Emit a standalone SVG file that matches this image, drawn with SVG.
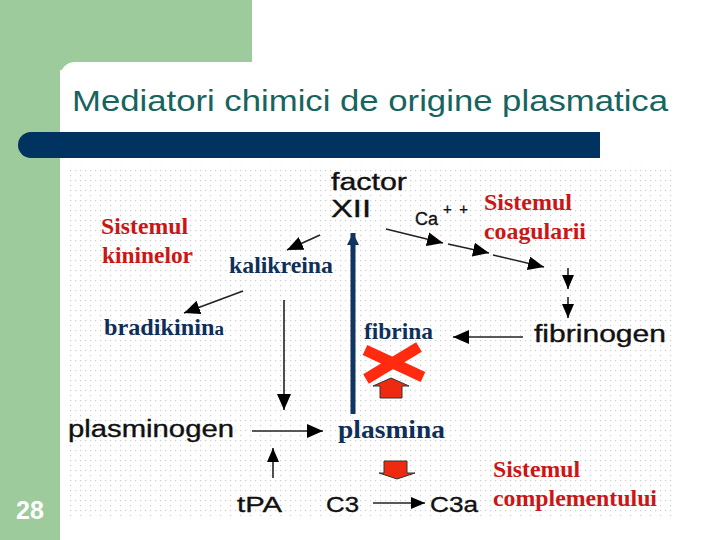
<svg xmlns="http://www.w3.org/2000/svg" width="720" height="540" viewBox="0 0 720 540">
<style>
.sans{font-family:"Liberation Sans",Arial,sans-serif;fill:#111;stroke:#111;stroke-width:0.35}
.ser{font-family:"Liberation Serif","Times New Roman",serif;font-weight:bold}
.red{fill:#cc1616}
.navy{fill:#0f2f58}
.ln{stroke:#222;stroke-width:1.6;fill:none}
</style>
<defs>
<pattern id="dots" width="10" height="10" patternUnits="userSpaceOnUse">
<rect x="0" y="0" width="1.2" height="1.2" fill="#cdcdcd"/>
<rect x="5" y="0" width="1.2" height="1.2" fill="#cdcdcd"/>
<rect x="0" y="5" width="1.2" height="1.2" fill="#cdcdcd"/>
</pattern>
<marker id="ah" viewBox="0 0 16 14" refX="16" refY="7" markerWidth="16" markerHeight="14" markerUnits="userSpaceOnUse" orient="auto">
<path d="M0,0 L16,7 L0,14 Z" fill="#000"/>
</marker>
<marker id="ahs" viewBox="0 0 14 12" refX="14" refY="6" markerWidth="14" markerHeight="12" markerUnits="userSpaceOnUse" orient="auto">
<path d="M0,0 L14,6 L0,12 Z" fill="#000"/>
</marker>
<marker id="ahb" viewBox="0 0 12 12" refX="12" refY="6" markerWidth="12" markerHeight="12" markerUnits="userSpaceOnUse" orient="auto">
<path d="M0,0 L12,6 L0,12 Z" fill="#0f3560"/>
</marker>
</defs>
<rect width="720" height="540" fill="#fff"/>
<rect x="0" y="0" width="252" height="70" fill="#9dcb9b"/>
<rect x="0" y="0" width="60" height="540" fill="#9dcb9b"/>
<rect x="60" y="62" width="700" height="500" rx="15" fill="#fff"/>
<path d="M31,132 H600 V158 H31 A13,13 0 0 1 31,132 Z" fill="#00335f"/>
<text x="72" y="111" font-family="'Liberation Sans',Arial,sans-serif" font-size="30" fill="#17645f" textLength="596" lengthAdjust="spacingAndGlyphs">Mediatori chimici de origine plasmatica</text>
<rect x="68" y="166" width="606" height="350" fill="url(#dots)"/>
<text x="16" y="519" font-family="'Liberation Sans',Arial,sans-serif" font-weight="bold" font-size="25" fill="#fff">28</text>

<g id="connectors">
<line class="ln" x1="320" y1="235" x2="287" y2="250" marker-end="url(#ah)"/>
<line class="ln" x1="243" y1="291" x2="184" y2="313" marker-end="url(#ah)"/>
<line class="ln" x1="386" y1="229" x2="443" y2="243" marker-end="url(#ah)"/>
<line class="ln" x1="448" y1="244" x2="489" y2="253" marker-end="url(#ah)"/>
<line class="ln" x1="493" y1="255" x2="544" y2="267" marker-end="url(#ah)"/>
<line class="ln" x1="568" y1="268" x2="568" y2="289" marker-end="url(#ahs)"/>
<line class="ln" x1="568" y1="297" x2="568" y2="318" marker-end="url(#ahs)"/>
<line class="ln" x1="523" y1="337" x2="453" y2="337" marker-end="url(#ah)"/>
<line class="ln" x1="284" y1="300" x2="284" y2="410" marker-end="url(#ah)"/>
<line class="ln" x1="252" y1="431" x2="323" y2="431" marker-end="url(#ah)"/>
<line class="ln" x1="273" y1="478" x2="273" y2="448" marker-end="url(#ahs)"/>
<line class="ln" x1="373" y1="503" x2="425" y2="503" marker-end="url(#ahs)"/>
<line x1="353" y1="414" x2="353" y2="233" stroke="#0f3560" stroke-width="5" marker-end="url(#ahb)"/>
</g>

<g id="factorXII">
<text class="sans" x="331" y="190" font-size="23" textLength="76" lengthAdjust="spacingAndGlyphs">factor</text>
<text class="sans" x="331" y="217" font-size="23" textLength="40" lengthAdjust="spacingAndGlyphs">XII</text>
</g>
<g id="ca">
<text class="sans" x="415" y="225" font-size="18" textLength="23" lengthAdjust="spacingAndGlyphs">Ca</text>
<text class="sans" x="443" y="214" font-size="15" textLength="25" lengthAdjust="spacing">++</text>
</g>
<g id="sistemul-coagularii">
<text class="ser red" x="484" y="210" font-size="23" textLength="88" lengthAdjust="spacingAndGlyphs">Sistemul</text>
<text class="ser red" x="484" y="239" font-size="23" textLength="102" lengthAdjust="spacingAndGlyphs">coagularii</text>
</g>
<g id="sistemul-kininelor">
<text class="ser red" x="101" y="234" font-size="23" textLength="87" lengthAdjust="spacingAndGlyphs">Sistemul</text>
<text class="ser red" x="102" y="263" font-size="23" textLength="91" lengthAdjust="spacingAndGlyphs">kininelor</text>
</g>
<g id="kalikreina">
<text class="ser navy" x="229" y="273" font-size="23" textLength="104" lengthAdjust="spacingAndGlyphs">kalikreina</text>
</g>
<g id="bradikinina">
<text class="ser navy" x="104" y="335" font-size="23" textLength="120" lengthAdjust="spacingAndGlyphs">bradikinin<tspan font-size="18">a</tspan></text>
</g>
<g id="fibrina">
<text class="ser navy" x="364" y="339" font-size="23" textLength="69" lengthAdjust="spacingAndGlyphs">fibrina</text>
</g>
<g id="fibrinogen">
<text class="sans" x="534" y="342" font-size="23" textLength="132" lengthAdjust="spacingAndGlyphs">fibrinogen</text>
</g>
<g id="blocked">
<line x1="365" y1="350" x2="423" y2="377" stroke="#ff2a10" stroke-width="11"/>
<line x1="419" y1="347" x2="366" y2="379" stroke="#ff2a10" stroke-width="11"/>
<path d="M391,378 L409,386 L402,386 L402,398 L380,398 L380,386 L373,386 Z" fill="#ee2a10" stroke="#333" stroke-width="1"/>
</g>
<g id="plasminogen">
<text class="sans" x="68" y="437" font-size="23" textLength="166" lengthAdjust="spacingAndGlyphs">plasminogen</text>
</g>
<g id="plasmina">
<text class="ser navy" x="338" y="438" font-size="25" textLength="107" lengthAdjust="spacingAndGlyphs">plasmina</text>
</g>
<g id="tPA">
<text class="sans" x="237" y="512" font-size="22" textLength="45" lengthAdjust="spacingAndGlyphs">tPA</text>
</g>
<g id="c3">
<text class="sans" x="326" y="512" font-size="22" textLength="33" lengthAdjust="spacingAndGlyphs">C3</text>
<path d="M384,461 L407,461 L407,473 L415,473 L397,479 L379,473 L384,473 Z" fill="#ee2a10" stroke="#333" stroke-width="1"/>
</g>
<g id="c3a">
<text class="sans" x="430" y="512" font-size="22" textLength="48" lengthAdjust="spacingAndGlyphs">C3a</text>
</g>
<g id="sistemul-complementului">
<text class="ser red" x="493" y="477" font-size="23" textLength="87" lengthAdjust="spacingAndGlyphs">Sistemul</text>
<text class="ser red" x="493" y="506" font-size="23" textLength="164" lengthAdjust="spacingAndGlyphs">complementului</text>
</g>
</svg>
